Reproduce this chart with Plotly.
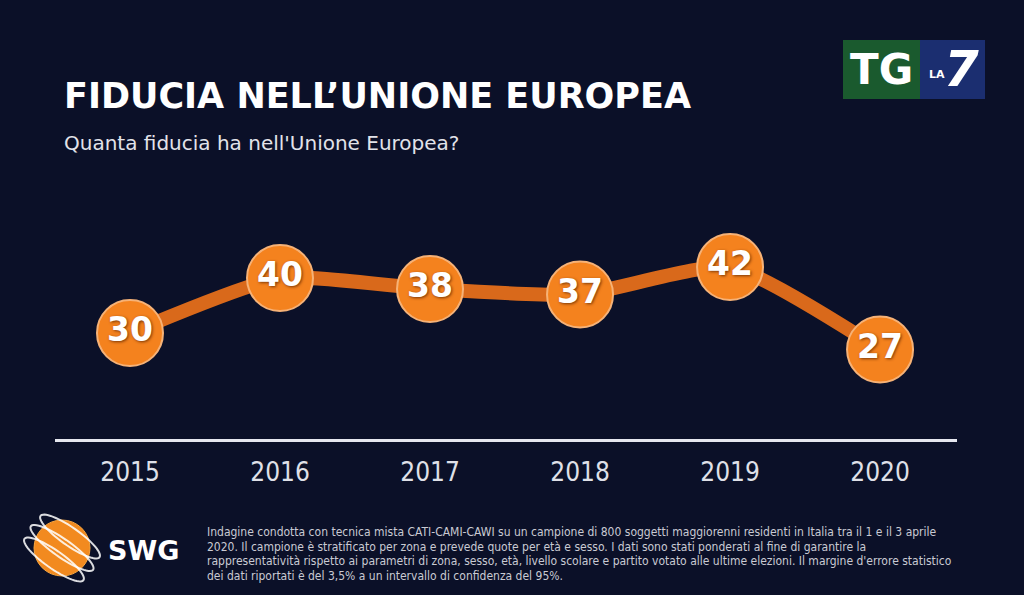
import numpy as np
import plotly.graph_objects as go

years = [2015, 2016, 2017, 2018, 2019, 2020]
year_labels = ["2015", "2016", "2017", "2018", "2019", "2020"]
fiducia = [30, 40, 38, 37, 42, 27]

title_text = "FIDUCIA NELL\u2019UNIONE EUROPEA"
subtitle_text = "Quanta fiducia ha nell'Unione Europea?"
note_lines = [
    "Indagine condotta con tecnica mista CATI-CAMI-CAWI su un campione di 800 soggetti maggiorenni residenti in Italia tra il 1 e il 3 aprile",
    "2020. Il campione \u00e8 stratificato per zona e prevede quote per et\u00e0 e sesso. I dati sono stati ponderati al fine di garantire la",
    "rappresentativit\u00e0 rispetto ai parametri di zona, sesso, et\u00e0, livello scolare e partito votato alle ultime elezioni. Il margine d'errore statistico",
    "dei dati riportati \u00e8 del 3,5% a un intervallo di confidenza del 95%.",
]

BG = "#0b1028"
W_, H_ = 1024, 595
L, R, T, B = 55, 67, 180, 156
PW = W_ - L - R
PH = H_ - T - B


def px(x):
    return (x - L) / PW


def py(y):
    return (H_ - B - y) / PH


fig = go.Figure()
fig.add_trace(go.Scatter(
    x=years, y=fiducia,
    mode="lines+markers+text",
    line=dict(color="#d9691b", width=14, shape="spline", smoothing=0.55),
    marker=dict(size=66, color="#f4821e", line=dict(color="#f6b277", width=2)),
    text=[str(v) for v in fiducia],
    textposition="middle center",
    textfont=dict(family="DejaVu Sans", size=33, color="white", weight="bold",
                  shadow="1px 1px 3px #7a3606"),
    cliponaxis=False,
    hoverinfo="skip",
))

shapes = []
annotations = []

# Title and subtitle
annotations.append(dict(x=px(62), y=py(96), xref="paper", yref="paper", text=title_text,
                        showarrow=False, xanchor="left", yanchor="middle",
                        font=dict(family="DejaVu Sans", size=35, color="white", weight="bold")))
annotations.append(dict(x=px(62), y=py(143), xref="paper", yref="paper", text=subtitle_text,
                        showarrow=False, xanchor="left", yanchor="middle",
                        font=dict(family="DejaVu Sans", size=20, color="#e2e3ea")))

# TG LA7 logo
shapes.append(dict(type="rect", xref="paper", yref="paper", x0=px(843), x1=px(920), y0=py(99), y1=py(40),
                   fillcolor="#1a5a2e", line=dict(width=0)))
shapes.append(dict(type="rect", xref="paper", yref="paper", x0=px(920), x1=px(985), y0=py(99), y1=py(40),
                   fillcolor="#1b2e70", line=dict(width=0)))
annotations.append(dict(x=px(881), y=py(70), xref="paper", yref="paper", text="TG", showarrow=False,
                        xanchor="center", yanchor="middle",
                        font=dict(family="DejaVu Sans", size=42, color="white", weight="bold")))
annotations.append(dict(x=px(937), y=py(75), xref="paper", yref="paper", text="LA", showarrow=False,
                        xanchor="center", yanchor="middle",
                        font=dict(family="DejaVu Sans", size=11, color="white", weight="bold")))
annotations.append(dict(x=px(961), y=py(69), xref="paper", yref="paper", text="<i>7</i>", showarrow=False,
                        xanchor="center", yanchor="middle",
                        font=dict(family="DejaVu Sans", size=50, color="white", weight="bold")))

# SWG logo globe
cx, cy, rr = 62, 548, 28
shapes.append(dict(type="circle", xref="paper", yref="paper",
                   x0=px(cx - rr), x1=px(cx + rr), y0=py(cy + rr), y1=py(cy - rr),
                   fillcolor="#f28a1f", line=dict(color="#f7a640", width=1)))
for k, (a, b, off) in enumerate([(36, 9, -14), (38, 9, 0), (36, 9, 14)]):
    t = np.linspace(0, 2 * np.pi, 60)
    ang = np.deg2rad(35)
    ex = a * np.cos(t)
    ey = b * np.sin(t) + off
    xr = cx + ex * np.cos(ang) - ey * np.sin(ang)
    yr = cy + ex * np.sin(ang) + ey * np.cos(ang)
    path = "M " + " L ".join(f"{px(xx):.5f},{py(yy):.5f}" for xx, yy in zip(xr, yr)) + " Z"
    shapes.append(dict(type="path", xref="paper", yref="paper", path=path,
                       line=dict(color="rgba(255,255,255,0.85)", width=2)))
annotations.append(dict(x=px(106), y=py(550), xref="paper", yref="paper", text="SWG", showarrow=False,
                        xanchor="left", yanchor="middle",
                        font=dict(family="DejaVu Sans", size=27, color="white", weight="bold")))

# Footnote
for i, line in enumerate(note_lines):
    annotations.append(dict(x=px(205), y=py(532 + i * 14.6), xref="paper", yref="paper", text=line,
                            showarrow=False, xanchor="left", yanchor="middle",
                            font=dict(family="DejaVu Sans Condensed", size=12, color="#c9cad3")))

vmin = 30 - (H_ - B - 333) / 5.5
vmax = 30 + (333 - T) / 5.5

fig.update_layout(
    width=W_, height=H_,
    paper_bgcolor=BG, plot_bgcolor=BG,
    margin=dict(l=L, r=R, t=T, b=B, pad=0),
    showlegend=False,
    shapes=shapes,
    annotations=annotations,
    xaxis=dict(range=[2014.5, 2020.513], tickvals=years, ticktext=year_labels,
               showgrid=False, zeroline=False, showline=True, linecolor="#e6e7ef", linewidth=3,
               ticks="outside", ticklen=8, tickcolor="rgba(0,0,0,0)",
               tickfont=dict(family="DejaVu Sans Condensed", size=26, color="#dfe0e8"),
               fixedrange=True),
    yaxis=dict(range=[vmin, vmax], visible=False, fixedrange=True),
)

fig.write_html("out.html", config={"displayModeBar": False},
               post_script="document.body.style.margin='0';document.body.style.overflow='hidden';document.body.style.background='" + BG + "';")
